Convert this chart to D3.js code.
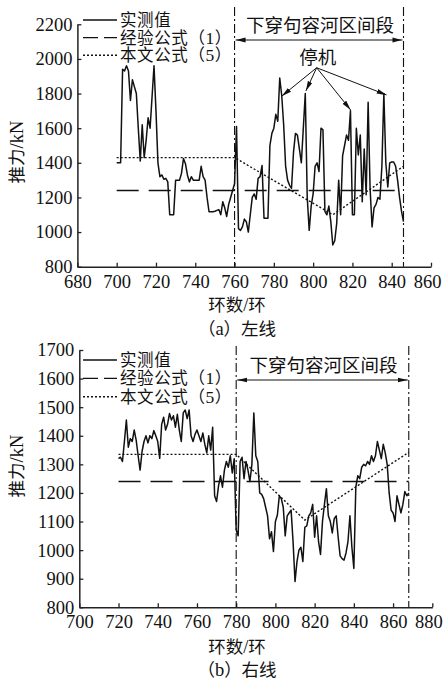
<!DOCTYPE html>
<html>
<head>
<meta charset="utf-8">
<script src="https://cdn.jsdelivr.net/npm/d3@7"></script>
<style>
  body { margin: 0; background: #fff; }
  svg { display: block; }
  text { fill: #111; }
</style>
</head>
<body>
<svg width="444" height="681"></svg>
<script>
'use strict';

// ---- data: left line (a) ----
var leftStart = 700;
var leftValues = [
  1400, 1400, 1400, 1940, 1930, 1960, 1930, 1760, 1880, 1840, // 700-709
  1800, 1600, 1410, 1620, 1430, 1530, 1660, 1600, 1780, 1960, // 710-719
  1700, 1400, 1320, 1330, 1305, 1310, 1290, 1100, 1100, 1100, // 720-729
  1300, 1300, 1300, 1340, 1425, 1395, 1330, 1290, 1320, 1300, // 730-739
  1300, 1300, 1300, 1380, 1320, 1300, 1200, 1118, 1118, 1118, // 740-749
  1120, 1125, 1130, 1100, 1175, 1140, 1090, 1160, 1200, 1240, // 750-759
  1280, 1610, 1020, 1010, 1030, 1075, 1060, 1000, 1100, 1200, // 760-769
  1220, 1190, 1310, 1320, 1385, 1080, 1080, 1080, 1500, 1570, // 770-779
  1600, 1680, 1640, 1890, 1790, 1620, 1380, 1300, 1270, 1253, // 780-789
  1460, 1570, 1560, 1480, 1400, 1600, 1800, 1200, 1010, 1150, // 790-799
  1220, 1380, 1400, 1350, 1600, 1590, 1120, 1100, 1150, 1060, // 800-809
  925, 950, 1050, 1300, 1100, 1440, 1500, 1560, 1530, 1700,   // 810-819
  1100, 1100, 1600, 1445, 1560, 1175, 1480, 1215, 1750, 1250, // 820-829
  1030, 1140, 1160, 1200, 1190, 1380, 1800, 1400, 1260, 1400, // 830-839
  1405, 1405, 1380, 1300, 1200, 1120, 1060                    // 840-846
];
var leftEmpirical = 1240;
var leftProposed = [[700, 1430], [760, 1430], [810, 1100], [846, 1380]];
var leftSection = [760, 846];
var leftStops = [[784, 1785], [796.3, 1815], [819.1, 1705], [837.4, 1792]];
var leftStopLabel = [801.8, 1955];

// ---- data: right line (b) ----
var rightStart = 720;
var rightValues = [
  1320, 1325, 1310, 1380, 1455, 1360, 1390, 1380, 1420, 1385, // 720-729
  1330, 1280, 1345, 1380, 1400, 1375, 1400, 1390, 1418, 1400, // 730-739
  1380, 1321, 1440, 1465, 1420, 1440, 1478, 1455, 1470, 1430, // 740-749
  1475, 1420, 1380, 1480, 1490, 1460, 1490, 1400, 1380, 1405, // 750-759
  1420, 1400, 1380, 1410, 1370, 1340, 1400, 1350, 1430, 1190, // 760-769
  1170, 1225, 1260, 1220, 1280, 1310, 1290, 1330, 1270, 1320, // 770-779
  1070, 1050, 1310, 1325, 1250, 1310, 1280, 1240, 1300, 1480, // 780-789
  1330, 1310, 1200, 1195, 1180, 1150, 1120, 1040, 1064, 995,  // 790-799
  1100, 1123, 1190, 1180, 1150, 1050, 1120, 1130, 1140, 1030, // 800-809
  890, 960, 1000, 1010, 960, 1080, 1085, 1120, 1130, 1160,    // 810-819
  1045, 1120, 1030, 985, 1100, 1160, 1215, 1120, 1100, 1060,  // 820-829
  1110, 1120, 1045, 980, 970, 965, 990, 1030, 1120, 1010,     // 830-839
  936, 1220, 1260, 1250, 1290, 1300, 1295, 1310, 1300, 1330,  // 840-849
  1310, 1330, 1380, 1350, 1320, 1370, 1340, 1300, 1200, 1140, // 850-859
  1130, 1100, 1190, 1160, 1130, 1160, 1205, 1190, 1200        // 860-868
];
var rightEmpirical = 1240;
var rightProposed = [[720, 1335], [780, 1335], [815, 1105], [868, 1342]];
var rightSection = [780, 868];

// ---- labels ----
var legendLabels = ['实测值', '经验公式（1）', '本文公式（5）'];
var legendDash = [null, '15,6', '2,2'];
var sectionLabel = '下穿句容河区间段';
var stopLabel = '停机';
var xTitle = '环数/环';
var yTitle = '推力/kN';

var numFont = '"Liberation Serif", serif';
var cjkFont = '"Noto Sans CJK SC", sans-serif';
var ink = '#111';

var svg = d3.select('svg');
var defs = svg.append('defs');
defs.append('marker')
  .attr('id', 'arr')
  .attr('viewBox', '0 0 10 6')
  .attr('refX', 10).attr('refY', 3)
  .attr('markerUnits', 'userSpaceOnUse')
  .attr('markerWidth', 10).attr('markerHeight', 6)
  .attr('orient', 'auto-start-reverse')
  .append('path').attr('d', 'M0,0.6 L10,3 L0,5.4 Z').attr('fill', ink);

// mixed text: ascii runs in serif, the rest in CJK font
function mixText(sel, str, size) {
  sel.attr('font-size', size);
  var runs = str.match(/[\x00-\x7f]+|[^\x00-\x7f]+/g);
  runs.forEach(function(r) {
    var ascii = /^[\x00-\x7f]+$/.test(r);
    sel.append('tspan')
      .attr('font-family', ascii ? numFont : cjkFont)
      .attr('font-size', ascii ? size + 1 : size)
      .text(r);
  });
}

function drawPanel(cfg) {
  var g = svg.append('g');
  var x = d3.scaleLinear().domain(cfg.xDomain).range(cfg.xRange);
  var y = d3.scaleLinear().domain(cfg.yDomain).range(cfg.yRange);

  // axes
  var xAxis = d3.axisBottom(x).tickValues(cfg.xTicks).tickFormat(d3.format('d'))
    .tickSizeInner(-4).tickSizeOuter(0).tickPadding(8);
  var yAxis = d3.axisLeft(y).tickValues(cfg.yTicks).tickFormat(d3.format('d'))
    .tickSizeInner(-4).tickSizeOuter(0).tickPadding(5);
  var gx = g.append('g').attr('transform', 'translate(0,' + cfg.yRange[0] + ')').call(xAxis);
  var gy = g.append('g').attr('transform', 'translate(' + cfg.xRange[0] + ',0)').call(yAxis);
  [gx, gy].forEach(function(a) {
    a.select('.domain').attr('stroke', '#222').attr('stroke-width', 1.5);
    a.selectAll('.tick line').attr('stroke', '#222').attr('stroke-width', 1.3);
    a.selectAll('.tick text').attr('font-family', numFont).attr('font-size', 18.5).attr('fill', ink);
  });
  // keep the last x label inside the picture
  gx.selectAll('.tick text').filter(function(d, i, n) { return i === n.length - 1; })
    .attr('dx', -4);

  // section dash-dot lines
  g.selectAll('.sec').data(cfg.section).enter().append('line')
    .attr('x1', function(d) { return x(d); }).attr('x2', function(d) { return x(d); })
    .attr('y1', cfg.secTop).attr('y2', cfg.yRange[0])
    .attr('stroke', ink).attr('stroke-width', 1.1).attr('stroke-dasharray', '9,3,2,3');

  // empirical formula (dashed)
  g.append('line')
    .attr('x1', x(cfg.start)).attr('x2', x(cfg.section[1]))
    .attr('y1', y(cfg.empirical)).attr('y2', y(cfg.empirical))
    .attr('stroke', ink).attr('stroke-width', 1.5).attr('stroke-dasharray', '22,10');

  var line = d3.line().x(function(d) { return x(d[0]); }).y(function(d) { return y(d[1]); });

  // proposed formula (dotted)
  g.append('path').datum(cfg.proposed).attr('d', line)
    .attr('fill', 'none').attr('stroke', ink).attr('stroke-width', 1.4).attr('stroke-dasharray', '2,2');

  // measured
  var pts = cfg.values.map(function(v, i) { return [cfg.start + i, v]; });
  g.append('path').datum(pts).attr('d', line)
    .attr('fill', 'none').attr('stroke', ink).attr('stroke-width', 1.5).attr('stroke-linejoin', 'round');

  // legend
  var lg = g.selectAll('.lg').data(legendLabels).enter().append('g')
    .attr('transform', function(d, i) { return 'translate(0,' + (cfg.legendY + i * cfg.legendStep) + ')'; });
  lg.append('line').attr('x1', 83).attr('x2', 117).attr('y1', 0).attr('y2', 0)
    .attr('stroke', ink).attr('stroke-width', 1.4)
    .attr('stroke-dasharray', function(d, i) { return legendDash[i]; });
  lg.append('text').attr('x', 120).attr('y', 6).attr('letter-spacing', 0.6)
    .each(function(d) { mixText(d3.select(this), d, 16.5); });

  // section arrow + label
  g.append('line')
    .attr('x1', x(cfg.section[0]) + 1).attr('x2', x(cfg.section[1]) - 1)
    .attr('y1', cfg.arrowY).attr('y2', cfg.arrowY)
    .attr('stroke', ink).attr('stroke-width', 1)
    .attr('marker-start', 'url(#arr)').attr('marker-end', 'url(#arr)');
  g.append('text')
    .attr('x', (x(cfg.section[0]) + x(cfg.section[1])) / 2 + 1).attr('y', cfg.arrowY - 8)
    .attr('text-anchor', 'middle').attr('font-family', cjkFont).attr('font-size', 18.5)
    .text(sectionLabel);

  // axis titles
  g.append('text').attr('x', cfg.xTitlePos[0]).attr('y', cfg.xTitlePos[1])
    .attr('text-anchor', 'middle').each(function() { mixText(d3.select(this), xTitle, 17.5); });
  g.append('text').attr('transform', 'translate(' + 23 + ',' + cfg.yTitleY + ') rotate(-90)')
    .attr('text-anchor', 'middle').each(function() { mixText(d3.select(this), yTitle, 17.5); });
  g.append('text').attr('x', cfg.xTitlePos[0]).attr('y', cfg.capY)
    .attr('text-anchor', 'middle').each(function() { mixText(d3.select(this), cfg.caption, 17.5); });

  return { x: x, y: y, g: g };
}

var panelA = drawPanel({
  start: leftStart, values: leftValues, empirical: leftEmpirical, proposed: leftProposed,
  section: leftSection,
  xDomain: [680, 860], xRange: [77.4, 431], yDomain: [800, 2200], yRange: [266.7, 24.3],
  xTicks: d3.range(680, 861, 20), yTicks: d3.range(800, 2201, 200),
  secTop: 7, legendY: 20, legendStep: 17.6, arrowY: 40, xTitlePos: [237, 311], yTitleY: 152, capY: 335,
  caption: '（a）左线'
});

var panelB = drawPanel({
  start: rightStart, values: rightValues, empirical: rightEmpirical, proposed: rightProposed,
  section: rightSection,
  xDomain: [700, 880], xRange: [79.3, 432.3], yDomain: [800, 1700], yRange: [607.3, 350],
  xTicks: d3.range(700, 881, 20), yTicks: d3.range(800, 1701, 100),
  secTop: 346, legendY: 360, legendStep: 18.4, arrowY: 380, xTitlePos: [237, 653], yTitleY: 466, capY: 676,
  caption: '（b）右线'
});

// stop annotation on top panel
panelA.g.append('text')
  .attr('x', panelA.x(leftStopLabel[0]) + 1).attr('y', panelA.y(leftStopLabel[1]) - 3)
  .attr('text-anchor', 'middle').attr('font-family', cjkFont).attr('font-size', 18.5)
  .text(stopLabel);
panelA.g.selectAll('.stop').data(leftStops).enter().append('line')
  .attr('x1', panelA.x(leftStopLabel[0])).attr('y1', panelA.y(leftStopLabel[1]) + 1)
  .attr('x2', function(d) { return panelA.x(d[0]); })
  .attr('y2', function(d) { return panelA.y(d[1]); })
  .attr('stroke', ink).attr('stroke-width', 1)
  .attr('marker-end', 'url(#arr)');
</script>
</body>
</html>
